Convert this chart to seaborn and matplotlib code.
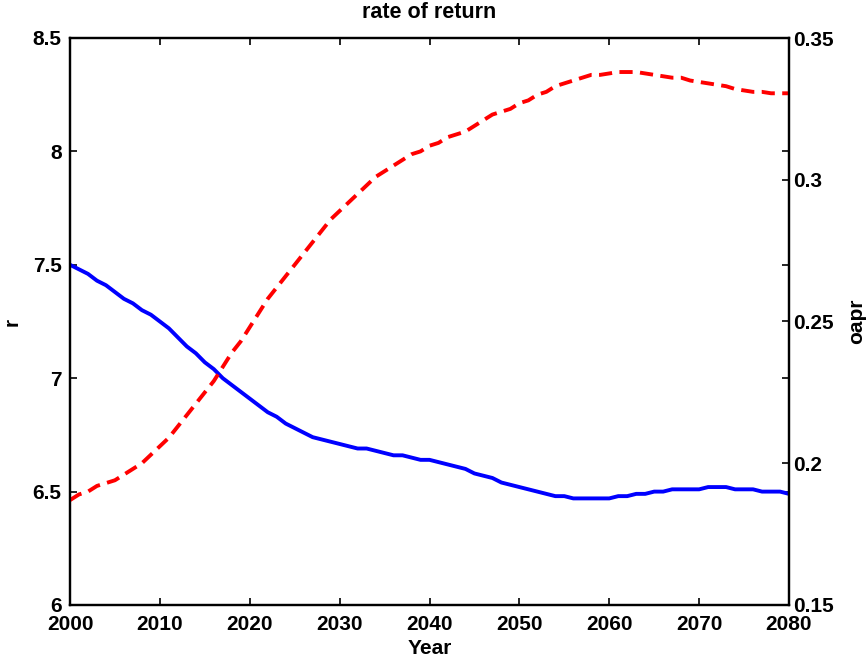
import numpy as np
import pandas as pd
import matplotlib
matplotlib.use("Agg")
import matplotlib.pyplot as plt
import seaborn as sns

years = list(range(2000, 2081))
r_vals = [7.50, 7.48, 7.46, 7.43, 7.41, 7.38, 7.35, 7.33, 7.30, 7.28,
          7.25, 7.22, 7.18, 7.14, 7.11, 7.07, 7.04, 7.00, 6.97, 6.94,
          6.91, 6.88, 6.85, 6.83, 6.80, 6.78, 6.76, 6.74, 6.73, 6.72,
          6.71, 6.70, 6.69, 6.69, 6.68, 6.67, 6.66, 6.66, 6.65, 6.64,
          6.64, 6.63, 6.62, 6.61, 6.60, 6.58, 6.57, 6.56, 6.54, 6.53,
          6.52, 6.51, 6.50, 6.49, 6.48, 6.48, 6.47, 6.47, 6.47, 6.47,
          6.47, 6.48, 6.48, 6.49, 6.49, 6.50, 6.50, 6.51, 6.51, 6.51,
          6.51, 6.52, 6.52, 6.52, 6.51, 6.51, 6.51, 6.50, 6.50, 6.50,
          6.49]
oapr_vals = [0.187, 0.189, 0.190, 0.192, 0.193, 0.194, 0.196, 0.198, 0.200, 0.203,
             0.206, 0.209, 0.213, 0.217, 0.221, 0.225, 0.229, 0.234, 0.239, 0.243,
             0.248, 0.253, 0.258, 0.262, 0.266, 0.270, 0.274, 0.278, 0.282, 0.286,
             0.289, 0.292, 0.295, 0.298, 0.301, 0.303, 0.305, 0.307, 0.309, 0.310,
             0.312, 0.313, 0.315, 0.316, 0.317, 0.319, 0.321, 0.323, 0.324, 0.325,
             0.327, 0.328, 0.330, 0.331, 0.333, 0.334, 0.335, 0.336, 0.337, 0.337,
             0.3375, 0.338, 0.338, 0.338, 0.3375, 0.337, 0.3365, 0.336, 0.336, 0.335,
             0.3345, 0.334, 0.3335, 0.333, 0.332, 0.3315, 0.331, 0.331, 0.3305, 0.3305,
             0.3305]
x_ticks = [2000, 2010, 2020, 2030, 2040, 2050, 2060, 2070, 2080]
left_ticks = [6, 6.5, 7, 7.5, 8, 8.5]
left_labels = ["6", "6.5", "7", "7.5", "8", "8.5"]
right_ticks = [0.15, 0.2, 0.25, 0.3, 0.35]
right_labels = ["0.15", "0.2", "0.25", "0.3", "0.35"]

df = pd.DataFrame({"Year": years, "r": r_vals, "oapr": oapr_vals})

sns.set_style("white")
plt.rcParams["font.family"] = ["Liberation Sans", "DejaVu Sans"]
plt.rcParams["font.weight"] = "bold"
plt.rcParams["text.color"] = "black"
plt.rcParams["axes.labelcolor"] = "black"

FS = 15

fig = plt.figure(figsize=(8.68, 6.61), dpi=100)
ax = fig.add_axes([70/868, 1-605/661, (789-70)/868, (605-38)/661])
sns.lineplot(data=df, x="Year", y="r", ax=ax, color="#0000ff", linewidth=2.8)
ax2 = ax.twinx()
sns.lineplot(data=df, x="Year", y="oapr", ax=ax2, color="#ff0000", linewidth=2.8,
             linestyle=(0, (3.4, 1.9)))

ax.set_xlim(2000, 2080)
ax.set_ylim(6, 8.5)
ax2.set_ylim(0.15, 0.35)
ax.set_xticks(x_ticks)
ax.set_xticklabels([str(t) for t in x_ticks], fontsize=FS, fontweight="bold", color="black")
ax.set_yticks(left_ticks)
ax.set_yticklabels(left_labels, fontsize=FS, fontweight="bold", color="black")
ax2.set_yticks(right_ticks)
ax2.set_yticklabels(right_labels, fontsize=FS, fontweight="bold", color="black")

ax.tick_params(axis="both", direction="in", length=5, width=1.2, top=True, right=True,
               bottom=True, left=True, colors="black")
ax.tick_params(axis="x", pad=7.5)
ax.tick_params(axis="y", pad=6)
ax2.tick_params(axis="y", direction="in", length=5, width=1.2, right=True, left=False,
                pad=3, colors="black")
for a in (ax, ax2):
    for s in a.spines.values():
        s.set_linewidth(1.6)
        s.set_color("black")
        s.set_visible(True)

ax.set_xlabel("Year", fontsize=FS, fontweight="bold", color="black", va="center")
ax.xaxis.set_label_coords(0.5, (605-648)/567)
ax.set_ylabel("r", fontsize=FS, fontweight="bold", color="black", va="center")
ax.yaxis.set_label_coords((12-70)/719, 0.5)
ax2.set_ylabel("oapr", fontsize=FS, fontweight="bold", color="black", va="center")
ax2.yaxis.set_label_coords((857-70)/719, 0.5)
ax.set_title("rate of return", fontsize=15.5, fontweight="bold", color="black",
             y=1 + (38-13)/567, va="center", pad=0)

fig.savefig("out.png", dpi=100)
